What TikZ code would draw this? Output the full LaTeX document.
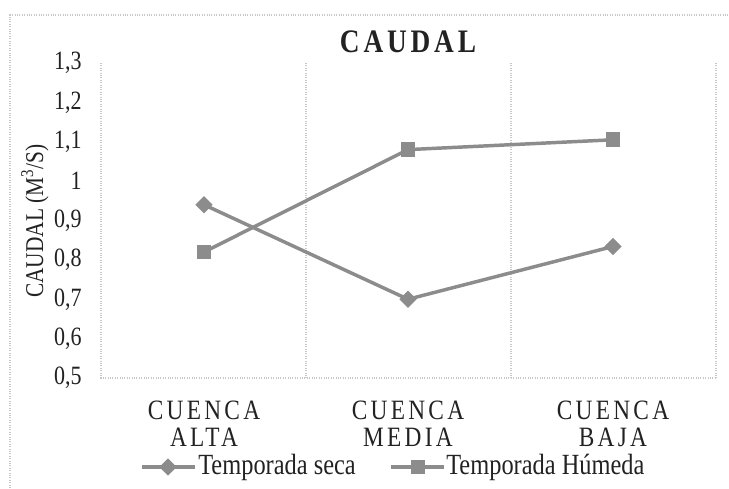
\documentclass[tikz,border=0pt]{standalone}
\usepackage{graphicx}
\usepackage{fontspec}
\setmainfont{Liberation Serif}
\newfontfamily\spacedfont[LetterSpace=14]{Liberation Serif}
\usetikzlibrary{shapes.geometric}
\newcommand{\tallt}[1]{\scalebox{1}[1.2]{#1}}
\definecolor{series}{HTML}{8C8C8C}
\definecolor{gridc}{HTML}{C8C8C8}
\definecolor{txt}{HTML}{222222}
\tikzset{
  grid line/.style={gridc, line width=0.8pt, densely dotted},
  serline/.style={series, line width=2.6pt},
  dmark/.style={diamond, fill=series, inner sep=0pt, minimum width=13pt, minimum height=13pt},
  smark/.style={rectangle, fill=series, inner sep=0pt, minimum size=11pt},
  ticklab/.style={anchor=east, text=txt, font=\fontsize{16.5}{16}\selectfont, inner sep=0pt},
  catlab/.style={text=txt, font=\fontsize{17.5}{20}\selectfont\spacedfont, inner sep=0pt},
  legtext/.style={anchor=west, text=txt, font=\fontsize{18.3}{18}\selectfont, inner sep=0pt}
}
\begin{document}
\begin{tikzpicture}[x=0.75pt, y=-0.75pt]
\useasboundingbox (0,0) rectangle (729,489);
\fill[white] (0,0) rectangle (729,489);
% outer border
\draw[grid line] (10,500) -- (10,15) -- (740,15);
% title
\node[text=txt, font=\fontsize{20.5}{20}\selectfont\bfseries\spacedfont, inner sep=0pt] (title) at (408,42) {\tallt{CAUDAL}};
% axes and grid
\draw[grid line] (101,63) -- (101,378) -- (716,378);
\foreach \gx in {306,511,716} \draw[grid line] (\gx,63) -- (\gx,378);
% tick labels
\foreach \lab [count=\i from 0] in {{0,5},{0,6},{0,7},{0,8},{0,9},{1},{1,1},{1,2},{1,3}}
  \node[ticklab] (t\i) at (82,{378-\i*39.375}) {\tallt{\lab}};
% y-axis title
\node[rotate=90, text=txt, font=\fontsize{16}{16}\selectfont, inner sep=0pt] (ytitle) at (35,221) {\tallt{CAUDAL (M\textsuperscript{3}/S)}};
% category labels
\node[catlab] (c1a) at (204,410) {\tallt{CUENCA}};
\node[catlab] (c1b) at (204,437) {\tallt{ALTA}};
\node[catlab] (c2a) at (408,410) {\tallt{CUENCA}};
\node[catlab] (c2b) at (408,437) {\tallt{MEDIA}};
\node[catlab] (c3a) at (613,410) {\tallt{CUENCA}};
\node[catlab] (c3b) at (613,437) {\tallt{BAJA}};
% data: y = 378 - (v-0.5)*393.75
\coordinate (s1) at (204,{378-(0.94-0.5)*393.75});
\coordinate (s2) at (408,{378-(0.70-0.5)*393.75});
\coordinate (s3) at (613,{378-(0.834-0.5)*393.75});
\coordinate (h1) at (204,{378-(0.82-0.5)*393.75});
\coordinate (h2) at (408,{378-(1.08-0.5)*393.75});
\coordinate (h3) at (613,{378-(1.105-0.5)*393.75});
\draw[serline] (s1) -- (s2) -- (s3);
\draw[serline] (h1) -- (h2) -- (h3);
\foreach \p in {s1,s2,s3} \node[dmark] at (\p) {};
\foreach \p in {h1,h2,h3} \node[smark] at (\p) {};
% legend
\coordinate (la) at (142,467);
\coordinate (lb) at (195,467);
\draw[serline] (la) -- (lb);
\node[dmark] (ld) at (168,467) {};
\node[legtext] (lt1) at (198,467) {\tallt{Temporada seca}};
\coordinate (lc) at (391,467);
\coordinate (ldd) at (444,467);
\draw[serline] (lc) -- (ldd);
\node[smark] (ls) at (418,467) {};
\node[legtext] (lt2) at (446,467) {\tallt{Temporada Húmeda}};
\end{tikzpicture}
\end{document}
